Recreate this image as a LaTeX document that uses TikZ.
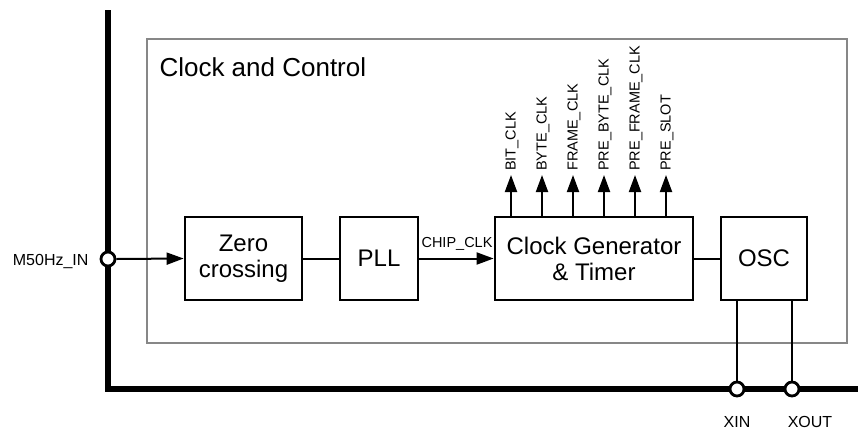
\documentclass[tikz,border=0pt]{standalone}
\usepackage{fontspec}
\setmainfont{Liberation Sans}
\usetikzlibrary{arrows.meta}
\begin{document}
\begin{tikzpicture}[x=1pt,y=-1pt,
  blk/.style={draw,line width=2.8pt,minimum height=83pt,inner sep=0pt,align=center,font=\fontsize{24}{26}\selectfont},
  wire/.style={line width=2pt},
  arr/.style={wire,-{Triangle[length=17pt,width=12pt]}},
  pin/.style={circle,draw,fill=white,line width=2.8pt,minimum size=14pt,inner sep=0pt},
  sig/.style={font=\fontsize{14.5}{15}\selectfont},
  lbl/.style={font=\fontsize{16}{16}\selectfont}]
\useasboundingbox (0,0) rectangle (858,429);
% gray container
\draw[line width=2.4pt,color=black!47] (147,39) rectangle (847,343);
\node[anchor=base west,font=\fontsize{26}{28}\selectfont] (title) at (156,76) {Clock and Control};
% thick bus
\draw[line width=6pt] (108,10) -- (108,389) -- (858,389);
% blocks
\node[blk,minimum width=117pt] (zc) at (243.5,258.5) {Zero\\crossing};
\node[blk,minimum width=78pt] (pll) at (379,258.5) {PLL};
\node[blk,minimum width=198pt] (cg) at (594,258.5) {Clock Generator\\\& Timer};
\node[blk,minimum width=86pt] (osc) at (764,258.5) {OSC};
% pins
\node[pin] (min) at (108,259) {};
\node[lbl,anchor=east] (minl) at (92,261) {M50Hz\_IN};
\node[pin] (xin) at (737,389) {};
\node[pin] (xout) at (792,389) {};
\node[lbl,anchor=base] (xinl) at (737,427) {XIN};
\node[lbl,anchor=base] (xoutl) at (810,427) {XOUT};
% connections
\draw[arr] (min.east) -- (zc.west);
\draw[wire] (zc.east) -- (pll.west);
\draw[arr] (pll.east) -- (cg.west);
\node[sig,anchor=base] (chip) at (457,247) {CHIP\_CLK};
\draw[wire] (cg.east) -- (osc.west);
\coordinate (oa) at (737,300);
\coordinate (ob) at (792,300);
\draw[wire] (oa) -- (xin.north);
\draw[wire] (ob) -- (xout.north);
% outputs
\foreach \x/\t/\n in {511/BIT\_CLK/a,542/BYTE\_CLK/b,573/FRAME\_CLK/c,604/PRE\_BYTE\_CLK/d,635/PRE\_FRAME\_CLK/e,666/PRE\_SLOT/f}{
  \coordinate (s\n) at (\x,217);
  \coordinate (t\n) at (\x,175);
  \draw[arr] (s\n) -- (t\n);
  \node[sig,rotate=90,anchor=west,inner sep=1pt] (l\n) at (\x+1,172) {\t};
}
\end{tikzpicture}
\end{document}
